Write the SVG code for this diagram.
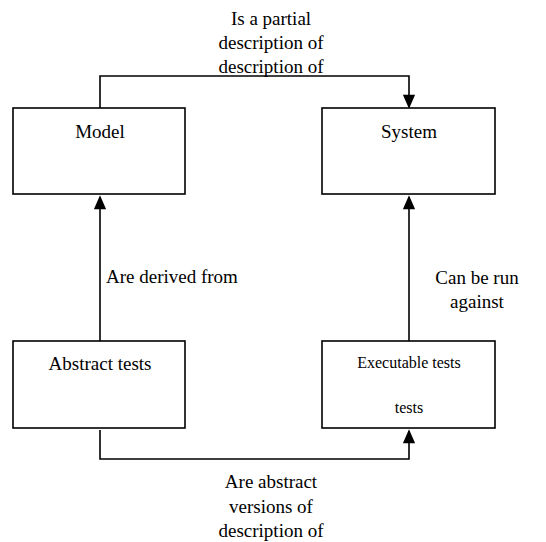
<svg xmlns="http://www.w3.org/2000/svg" width="546" height="542" viewBox="0 0 546 542">
<style>
.box{fill:#fff;stroke:#000;stroke-width:1.6}
.t{font-family:'Liberation Serif','Times New Roman',serif;font-size:19px;fill:#000;text-anchor:middle}
.s{font-size:16px}
.c{fill:none;stroke:#000;stroke-width:1.6}
</style>
<defs>
<marker id="ah" viewBox="0 0 14 16" refX="14" refY="7" markerWidth="16" markerHeight="14" markerUnits="userSpaceOnUse" orient="auto">
<path d="M0,0 L16,7 L0,14 Z" fill="#000"/>
</marker>
</defs>
<rect width="546" height="542" fill="#fff"/>
<g id="connectors">
<path class="c" d="M100,108 V76 H409 V107" marker-end="url(#ah)"/>
<path class="c" d="M100,341 V197" marker-end="url(#ah)"/>
<path class="c" d="M409,341 V197" marker-end="url(#ah)"/>
<path class="c" d="M100,430 V459 H409 V431" marker-end="url(#ah)"/>
<text class="t" x="271" y="25">Is a partial</text>
<text class="t" x="271" y="49">description of</text>
<text class="t" x="271" y="73">description of</text>
<text class="t" x="106" y="283" style="text-anchor:start">Are derived from</text>
<text class="t" x="477" y="284">Can be run</text>
<text class="t" x="477" y="308">against</text>
<text class="t" x="271" y="488">Are abstract</text>
<text class="t" x="271" y="513">versions of</text>
<text class="t" x="271" y="537">description of</text>
</g>
<g id="model">
<rect class="box" x="13" y="108" width="172" height="86"/>
<text class="t" x="100" y="138">Model</text>
</g>
<g id="system">
<rect class="box" x="322" y="108" width="173" height="86"/>
<text class="t" x="409" y="138">System</text>
</g>
<g id="abstract-tests">
<rect class="box" x="13" y="341" width="172" height="87"/>
<text class="t" x="100" y="370">Abstract tests</text>
</g>
<g id="executable-tests">
<rect class="box" x="322" y="341" width="173" height="87"/>
<text class="t s" x="409" y="368">Executable tests</text>
<text class="t s" x="409" y="413">tests</text>
</g>
</svg>
